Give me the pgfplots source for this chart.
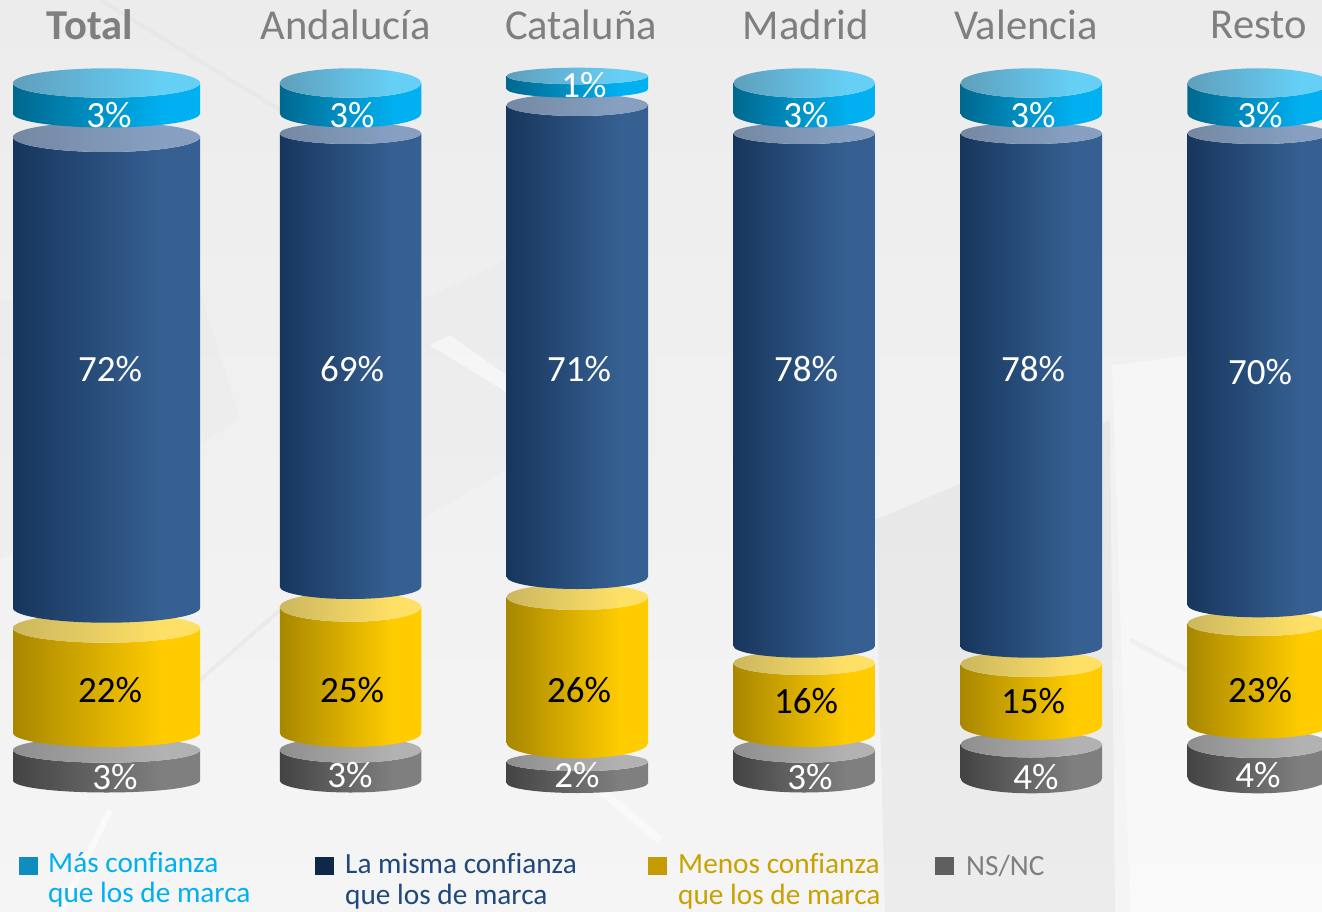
\documentclass[border=0pt]{standalone}
\usepackage{fontspec}
\setmainfont[Ligatures=NoCommon]{Carlito}
\usepackage{pgfplots}
\usepackage{pgfplotstable}
\pgfplotsset{compat=1.18}

% each segment: centre x, width, top edge, top ellipse ry, bottom edge, bottom ellipse ry, label x, label y, value (%)
\pgfplotstableread{
x w top rt bot rb lx ly v
106.5 187 83 14.7 113.5 14 109 115 3
350.5 141.5 83 14.7 113.5 14 352 115 3
577.3 141.5 76 8.3 89 8.7 584 85 1
804.2 141.5 83 14.7 113.5 14 806 115 3
1031.3 141.5 83 14.7 113.5 14 1033 115 3
1258.2 141.5 83 14.7 113.5 14 1260 115 3
}\tabMas
\pgfplotstableread{
x w top rt bot rb lx ly v
106.5 187 137 15 608 14.7 110 369 72
350.5 141.5 133.3 10.7 586.7 12.3 352 369 69
577.3 141.5 105 11 576.7 12.3 579 369 71
804.2 141.5 133.3 10.7 646 11.7 806 369 78
1031.3 141.5 133.3 10.7 646.7 11 1033 369 78
1258.2 141.5 133.3 10.7 605 12.3 1260 372 70
}\tabMisma
\pgfplotstableread{
x w top rt bot rb lx ly v
106.5 187 628 14.7 733 14 110 690 22
350.5 141.5 607 14.7 733 14 352 690 25
577.3 141.5 597 13 742.7 15.6 579 690 26
804.2 141.5 663 12 733 14 806 701 16
1031.3 141.5 664 13 725 15 1033 701 15
1258.2 141.5 623.5 12.5 725 13.5 1260 690 23
}\tabMenos
\pgfplotstableread{
x w top rt bot rb lx ly v
106.5 187 750 12.7 780.5 12 115 777 3
350.5 141.5 750 12.7 780.5 12 350 775 3
577.3 141.5 761.7 9.5 783 10 577 775 2
804.2 141.5 750 12.7 780.5 12 810 777 3
1031.3 141.5 744.5 13 778.3 15 1036 777 4
1258.2 141.5 744 14 777.3 16 1258 775 4
}\tabNS

\definecolor{cA}{HTML}{00688E}\definecolor{cB}{HTML}{00B0F0}
\definecolor{lA}{HTML}{5F9FBC}\definecolor{lB}{HTML}{66CFF6}
\definecolor{bA}{HTML}{17365D}\definecolor{bB}{HTML}{366092}
\definecolor{mA}{HTML}{7488A3}\definecolor{mB}{HTML}{87A0C2}
\definecolor{gA}{HTML}{A88700}\definecolor{gB}{HTML}{FFCC00}
\definecolor{hA}{HTML}{CBB75F}\definecolor{hB}{HTML}{FFE066}
\definecolor{nA}{HTML}{434343}\definecolor{nB}{HTML}{7F7F7F}
\definecolor{oA}{HTML}{8E8E8E}\definecolor{oB}{HTML}{B2B2B2}
\definecolor{hdc}{HTML}{7F7F7F}
\definecolor{bgT}{HTML}{ECECEC}\definecolor{bgM}{HTML}{F0F0F0}\definecolor{bgB}{HTML}{F5F5F5}

\newcommand\mkshade[3]{\pgfdeclarehorizontalshading{#1}{100bp}{color(0bp)=(#2);color(25bp)=(#2);color(65bp)=(#3);color(100bp)=(#3)}}
\mkshade{sc}{cA}{cB}\mkshade{sl}{lA}{lB}
\mkshade{sb}{bA}{bB}\mkshade{sm}{mA}{mB}
\mkshade{sg}{gA}{gB}\mkshade{sh}{hA}{hB}
\mkshade{sn}{nA}{nB}\mkshade{so}{oA}{oB}

\newcommand\defcyl[3]{%
 \pgfdeclareplotmark{#1}{%
  \shade[draw=none,shading=#2] (-\cylW pt/2,0pt) -- (-\cylW pt/2,-\cylH pt)
     arc[start angle=180,end angle=360,x radius=\cylW pt/2,y radius=\cylB pt]
     -- (\cylW pt/2,0pt)
     arc[start angle=0,end angle=-180,x radius=\cylW pt/2,y radius=\cylT pt] -- cycle;
  \shade[draw=none,shading=#3] (0pt,0pt) ellipse[x radius=\cylW pt/2,y radius=\cylT pt];
 }}
\defcyl{cylc}{sc}{sl}
\defcyl{cylb}{sb}{sm}
\defcyl{cylg}{sg}{sh}
\defcyl{cyln}{sn}{so}

\pgfplotsset{
 cyl/.style={scatter,only marks,mark=#1,
   visualization depends on={\thisrow{w}\as\cylW},
   visualization depends on={(\thisrow{bot}-\thisrow{top})\as\cylH},
   visualization depends on={\thisrow{rt}\as\cylT},
   visualization depends on={\thisrow{rb}\as\cylB}},
 lab/.style={only marks,mark=none,point meta=explicit,
   nodes near coords={\pgfmathprintnumber[precision=0]{\pgfplotspointmeta}\%},
   every node near coord/.append style={anchor=center,inner sep=0pt,text=#1,
     font=\fontsize{37}{40}\selectfont},
   /pgf/number format/assume math mode=true},
}
\newcommand\hd[3][]{\node[text=hdc,font=\fontsize{42.6}{46}\selectfont#1] at (axis cs:#2,25) {#3};}
\tikzset{lgtxt/.style={anchor=base west,inner sep=0pt,font=\fontsize{29.3}{32}\selectfont}}

\begin{document}
\begin{tikzpicture}
\useasboundingbox (0,0) rectangle (1322pt,912pt);
\clip (0,0) rectangle (1322pt,912pt);
\begin{axis}[at={(0,0)},anchor=south west,x=1pt,y=1pt,
  xmin=0,xmax=1322,ymin=0,ymax=912,y dir=reverse,
  hide axis,clip=false]

% backdrop
\shade[top color=bgT,middle color=bgM,bottom color=bgB] (axis cs:0,0) rectangle (axis cs:1322,912);
\fill[black,opacity=.035] (axis cs:875,520) -- (axis cs:1110,420) -- (axis cs:1115,912) -- (axis cs:885,912) -- cycle;
\fill[black,opacity=.012] (axis cs:0,300) -- (axis cs:200,290) -- (axis cs:240,420) -- (axis cs:0,560) -- cycle;
\fill[black,opacity=.012] (axis cs:421,300) -- (axis cs:506,260) -- (axis cs:506,470) -- (axis cs:421,520) -- cycle;
\fill[white,opacity=.4] (axis cs:1112,365) -- (axis cs:1322,340) -- (axis cs:1322,912) -- (axis cs:1130,912) -- cycle;
\fill[white,opacity=.5] (axis cs:430,345) -- (axis cs:450,335) -- (axis cs:506,375) -- (axis cs:506,392) -- cycle;
\draw[black,opacity=.02,line width=4pt] (axis cs:100,0) -- (axis cs:280,110);
\draw[black,opacity=.03,line width=4pt] (axis cs:200,680) -- (axis cs:280,610);
\draw[black,opacity=.03,line width=5pt] (axis cs:1130,640) -- (axis cs:1187,670);
\draw[white,opacity=.6,line width=6pt] (axis cs:60,912) -- (axis cs:110,810);
\draw[white,opacity=.5,line width=8pt] (axis cs:600,790) -- (axis cs:660,840);

% cylinders, bottom up so each one sits over the one beneath it
\addplot[cyl=cyln] table[x=x,y=top] {\tabNS};
\addplot[cyl=cylg] table[x=x,y=top] {\tabMenos};
\addplot[cyl=cylb] table[x=x,y=top] {\tabMisma};
\addplot[cyl=cylc] table[x=x,y=top] {\tabMas};

% value labels
\addplot[lab=white] table[x=lx,y=ly,meta=v] {\tabMas};
\addplot[lab=white] table[x=lx,y=ly,meta=v] {\tabMisma};
\addplot[lab=black] table[x=lx,y=ly,meta=v] {\tabMenos};
\addplot[lab=white] table[x=lx,y=ly,meta=v] {\tabNS};

% column headers
\hd[\bfseries]{90}{Total}
\hd{346}{Andalucía}
\hd{581}{Cataluña}
\hd{806}{Madrid}
\hd{1026}{Valencia}
\hd{1259}{Resto}

% legend
\fill[color={rgb,255:red,14;green,142;blue,191}] (axis cs:19,857) rectangle (axis cs:38,875);
\fill[color={rgb,255:red,15;green,40;blue,71}] (axis cs:315,857) rectangle (axis cs:334,875);
\fill[color={rgb,255:red,196;green,156;blue,0}] (axis cs:648,857) rectangle (axis cs:667,875);
\fill[color={rgb,255:red,95;green,95;blue,95}] (axis cs:935,857) rectangle (axis cs:954,875);
\node[lgtxt,text={rgb,255:red,0;green,176;blue,240}] at (axis cs:48,872) {Más confianza};
\node[lgtxt,text={rgb,255:red,0;green,176;blue,240}] at (axis cs:48,902) {que los de marca};
\node[lgtxt,text={rgb,255:red,31;green,73;blue,125}] at (axis cs:345,873) {La misma confianza};
\node[lgtxt,text={rgb,255:red,31;green,73;blue,125}] at (axis cs:345,904) {que los de marca};
\node[lgtxt,text={rgb,255:red,201;green,161;blue,0}] at (axis cs:678,873) {Menos confianza};
\node[lgtxt,text={rgb,255:red,201;green,161;blue,0}] at (axis cs:678,904) {que los de marca};
\node[lgtxt,text=hdc] at (axis cs:966,875) {NS/NC};
\end{axis}
\end{tikzpicture}
\end{document}
